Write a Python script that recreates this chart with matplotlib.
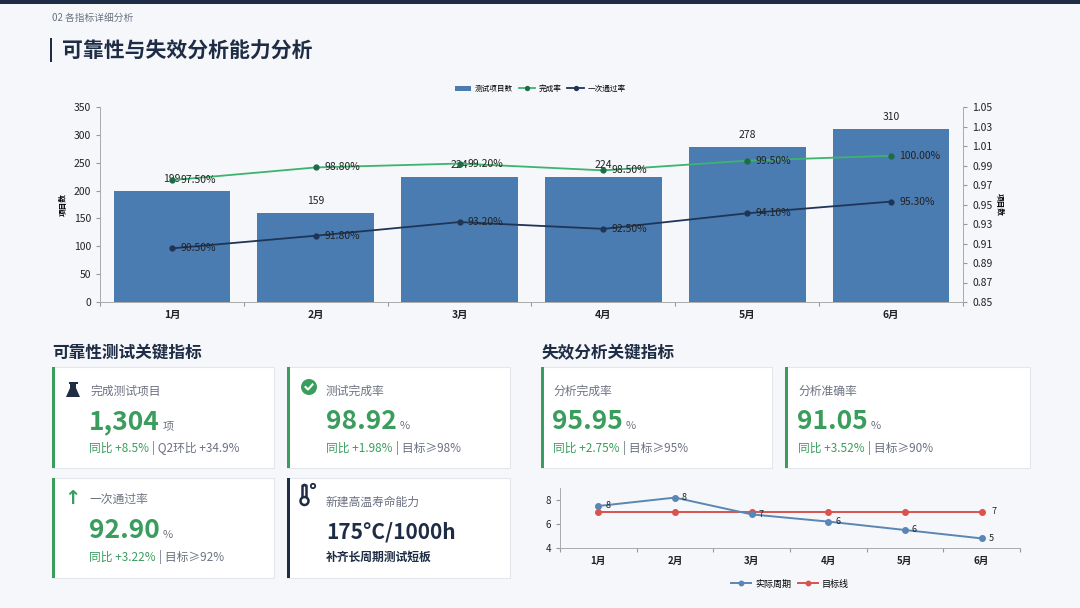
import matplotlib
matplotlib.use("Agg")
import matplotlib.pyplot as plt
from matplotlib.patches import Rectangle, FancyBboxPatch, Polygon, Ellipse
from matplotlib.lines import Line2D

plt.rcParams['font.family'] = ['Noto Sans CJK SC', 'DejaVu Sans']

# data
months = ['1月', '2月', '3月', '4月', '5月', '6月']
test_items = [199, 159, 224, 224, 278, 310]
completion_rate = [97.5, 98.8, 99.2, 98.5, 99.5, 100.0]
first_pass_rate = [90.5, 91.8, 93.2, 92.5, 94.1, 95.3]
actual_cycle = [7.5, 8.2, 6.8, 6.2, 5.5, 4.8]
target_cycle = [7, 7, 7, 7, 7, 7]

BG = '#f5f7fa'
NAVY = '#1e2d45'
GREEN = '#3a9d5d'
GREY = '#6b7280'
BAR = '#4a7bb1'

W, H = 1080, 608
fig = plt.figure(figsize=(10.8, 6.08), dpi=100, facecolor=BG)


def fx(x):
    return x / W


def fy(y):
    return 1 - y / H


def ftext(x, y, s, **kw):
    return fig.text(fx(x), fy(y), s, **kw)


def dot(x, y, r, **kw):
    # round in pixels, whatever the figure aspect
    fig.add_artist(Ellipse((fx(x), fy(y)), 2 * r / W, 2 * r / H, transform=fig.transFigure, **kw))


# top band and headings
fig.add_artist(Rectangle((0, fy(4)), 1, 4 / H, transform=fig.transFigure, color=NAVY, lw=0))
ftext(52, 18, '02 各指标详细分析', fontsize=7, color=GREY, va='center')
fig.add_artist(Rectangle((fx(50), fy(62)), 2.5 / W, 24 / H, transform=fig.transFigure, color=NAVY, lw=0))
ftext(62, 51, '可靠性与失效分析能力分析', fontsize=15, color=NAVY, fontweight='bold', va='center')

# main combo chart
ax = fig.add_axes([fx(100), fy(302), (963 - 100) / W, (302 - 107) / H])
ax.set_facecolor(BG)
x = list(range(len(months)))
bars = ax.bar(x, test_items, width=0.81, color=BAR, label='测试项目数', zorder=2)
for xi, v in zip(x, test_items):
    ax.annotate(str(v), (xi, v), xytext=(0, 5), textcoords='offset points',
                ha='center', va='bottom', fontsize=7.5, color='#222222')
ax.set_ylim(0, 350)
ax.set_yticks(range(0, 351, 50))
ax.set_xlim(-0.5, 5.5)
ax.set_xticks([i - 0.5 for i in range(7)])
ax.set_xticklabels([])
ax.set_xticks(x, minor=True)
ax.set_xticklabels(months, minor=True, fontsize=7.5, fontweight='bold', color='#222222')
ax.tick_params(axis='x', which='minor', length=0, pad=6)
ax.tick_params(axis='x', which='major', length=3, color='#999999')
ax.tick_params(axis='y', labelsize=7.5, length=3, color='#999999', labelcolor='#222222')
ax.set_ylabel('项目数', fontsize=5.5, fontweight='bold', labelpad=4)
for s in ['top', 'right']:
    ax.spines[s].set_visible(False)
for s in ['left', 'bottom']:
    ax.spines[s].set_color('#aaaaaa')
    ax.spines[s].set_linewidth(0.7)

ax2 = ax.twinx()
comp = [v / 100 for v in completion_rate]
fpr = [v / 100 for v in first_pass_rate]
l1, = ax2.plot(x, comp, color='#3db36e', lw=1.3, marker='o', ms=3.5, mfc='#1f6b45', mec='#1f6b45', label='完成率', zorder=3)
l2, = ax2.plot(x, fpr, color='#1f3556', lw=1.3, marker='o', ms=3.5, mfc='#1f3556', mec='#1f3556', label='一次通过率', zorder=3)
for xi, v, r in zip(x, comp, completion_rate):
    ax2.annotate(f'{r:.2f}%', (xi, v), xytext=(6, 0), textcoords='offset points',
                 ha='left', va='center', fontsize=7.5, color='#222222')
for xi, v, r in zip(x, fpr, first_pass_rate):
    ax2.annotate(f'{r:.2f}%', (xi, v), xytext=(6, 0), textcoords='offset points',
                 ha='left', va='center', fontsize=7.5, color='#222222')
ax2.set_ylim(0.85, 1.05)
ax2.set_yticks([0.85 + 0.02 * i for i in range(11)])
ax2.set_yticklabels([f'{0.85 + 0.02 * i:.2f}' for i in range(11)])
ax2.tick_params(axis='y', labelsize=7.5, length=3, color='#999999', labelcolor='#222222')
ax2.set_ylabel('项目数', fontsize=5.5, fontweight='bold', rotation=270, labelpad=8)
for s in ['top', 'left', 'bottom']:
    ax2.spines[s].set_visible(False)
ax2.spines['right'].set_color('#aaaaaa')
ax2.spines['right'].set_linewidth(0.7)

fig.legend(handles=[bars, l1, l2], loc='center', bbox_to_anchor=(fx(540), fy(89)), ncol=3,
           frameon=False, fontsize=5.5, handlelength=2.2, handletextpad=0.4, columnspacing=0.8,
           markerscale=0.8)

# section headings
ftext(52, 353, '可靠性测试关键指标', fontsize=12, fontweight='bold', color=NAVY, va='center')
ftext(541, 353, '失效分析关键指标', fontsize=12, fontweight='bold', color=NAVY, va='center')


def card(x0, y0, x1, y1, accent):
    fig.add_artist(FancyBboxPatch((fx(x0), fy(y1)), (x1 - x0) / W, (y1 - y0) / H,
                                  boxstyle='square,pad=0', transform=fig.transFigure,
                                  fc='white', ec='#e3e7ec', lw=0.8))
    fig.add_artist(Rectangle((fx(x0), fy(y1)), 3 / W, (y1 - y0) / H,
                             transform=fig.transFigure, color=accent, lw=0))


fig.canvas.draw()
renderer = fig.canvas.get_renderer()


def after(t, gap=3):
    bb = t.get_window_extent(renderer)
    return bb.x1 + gap


def big_value(x, y, value, unit, color=GREEN):
    t = ftext(x, y, value, fontsize=19, fontweight='bold', color=color, va='baseline')
    fig.text(after(t, 3) / W, fy(y), unit, fontsize=8, color=GREY, va='baseline')


def compare_line(x, y, green_part, grey_part):
    t = ftext(x, y, green_part, fontsize=8.5, color=GREEN, va='center')
    fig.text(after(t, 3) / W, fy(y), grey_part, fontsize=8.5, color=GREY, va='center')


# card 1
card(52, 367, 274, 468, GREEN)
fig.add_artist(Polygon([(fx(70), fy(383)), (fx(76), fy(383)), (fx(76), fy(388)), (fx(80), fy(397)),
                        (fx(66), fy(397)), (fx(70), fy(388))], closed=True,
                       transform=fig.transFigure, color=NAVY, lw=0))
fig.add_artist(Rectangle((fx(68.5), fy(383.5)), 9 / W, 1.5 / H, transform=fig.transFigure, color=NAVY, lw=0))
ftext(90, 391, '完成测试项目', fontsize=8.5, color=GREY, va='center')
big_value(89, 429, '1,304', '项')
compare_line(89, 448, '同比 +8.5%', '| Q2环比 +34.9%')

# card 2
card(287, 367, 510, 468, GREEN)
dot(309, 387, 8, color=GREEN, lw=0)
fig.add_artist(Line2D([fx(305.5), fx(308), fx(312.5)], [fy(387), fy(389.5), fy(384.5)],
                      transform=fig.transFigure, color='white', lw=1.5))
ftext(326, 391, '测试完成率', fontsize=8.5, color=GREY, va='center')
big_value(326, 429, '98.92', '%')
compare_line(326, 448, '同比 +1.98%', '| 目标≥98%')

# card 3
card(52, 478, 274, 578, GREEN)
ftext(72, 498, '↑', fontsize=14, color=GREEN, va='center', ha='center', fontweight='bold',
      family=['DejaVu Sans'])
ftext(90, 499, '一次通过率', fontsize=8.5, color=GREY, va='center')
big_value(89, 538, '92.90', '%')
compare_line(89, 557, '同比 +3.22%', '| 目标≥92%')

# card 4
card(287, 478, 510, 578, NAVY)
fig.add_artist(FancyBboxPatch((fx(302.5), fy(499)), 4 / W, 14 / H, boxstyle='round,pad=0,rounding_size=0.002',
                              transform=fig.transFigure, fc='white', ec=NAVY, lw=1.8))
dot(304.5, 501, 4, fc='white', ec=NAVY, lw=1.8)
dot(313, 486, 2.2, fc='none', ec=NAVY, lw=1.3)
ftext(326, 502, '新建高温寿命能力', fontsize=8.5, color=GREY, va='center')
ftext(326, 538, '175°C/1000h', fontsize=15, fontweight='bold', color=NAVY, va='baseline')
ftext(326, 557, '补齐长周期测试短板', fontsize=8.5, fontweight='bold', color=NAVY, va='center')

# card 5
card(541, 367, 772, 468, GREEN)
ftext(553, 391, '分析完成率', fontsize=8.5, color=GREY, va='center')
big_value(552, 429, '95.95', '%')
compare_line(553, 448, '同比 +2.75%', '| 目标≥95%')

# card 6
card(785, 367, 1030, 468, GREEN)
ftext(798, 391, '分析准确率', fontsize=8.5, color=GREY, va='center')
big_value(797, 429, '91.05', '%')
compare_line(798, 448, '同比 +3.52%', '| 目标≥90%')

# cycle chart
bx = fig.add_axes([fx(560), fy(548), (1020 - 560) / W, (548 - 488) / H])
bx.set_facecolor(BG)
a1, = bx.plot(x, actual_cycle, color='#5a86b3', lw=1.4, marker='o', ms=4, label='实际周期', zorder=3)
a2, = bx.plot(x, target_cycle, color='#d9534f', lw=1.4, marker='o', ms=4, label='目标线', zorder=2)
for xi, v in zip(x, actual_cycle):
    bx.annotate(f'{v:.0f}', (xi, v), xytext=(5, 0), textcoords='offset points',
                ha='left', va='center', fontsize=6.5, color='#222222')
bx.annotate(f'{target_cycle[-1]:.0f}', (x[-1], target_cycle[-1]), xytext=(7, 0), textcoords='offset points',
            ha='left', va='center', fontsize=6.5, color='#222222')
bx.set_ylim(4, 9)
bx.set_yticks([4, 6, 8])
bx.set_xlim(-0.5, 5.5)
bx.set_xticks([i - 0.5 for i in range(7)])
bx.set_xticklabels([])
bx.set_xticks(x, minor=True)
bx.set_xticklabels(months, minor=True, fontsize=7, fontweight='bold', color='#222222')
bx.tick_params(axis='x', which='minor', length=0, pad=6)
bx.tick_params(axis='x', which='major', length=3, color='#999999')
bx.tick_params(axis='y', labelsize=7, length=3, color='#999999', labelcolor='#222222')
for s in ['top', 'right']:
    bx.spines[s].set_visible(False)
for s in ['left', 'bottom']:
    bx.spines[s].set_color('#aaaaaa')
    bx.spines[s].set_linewidth(0.7)
bx.legend(handles=[a1, a2], loc='center', bbox_to_anchor=(0.5, -0.6), ncol=2, frameon=False,
          fontsize=6.5, handlelength=2.2, handletextpad=0.4, columnspacing=0.8, markerscale=0.8)

fig.savefig('out.png', dpi=100, facecolor=BG)
